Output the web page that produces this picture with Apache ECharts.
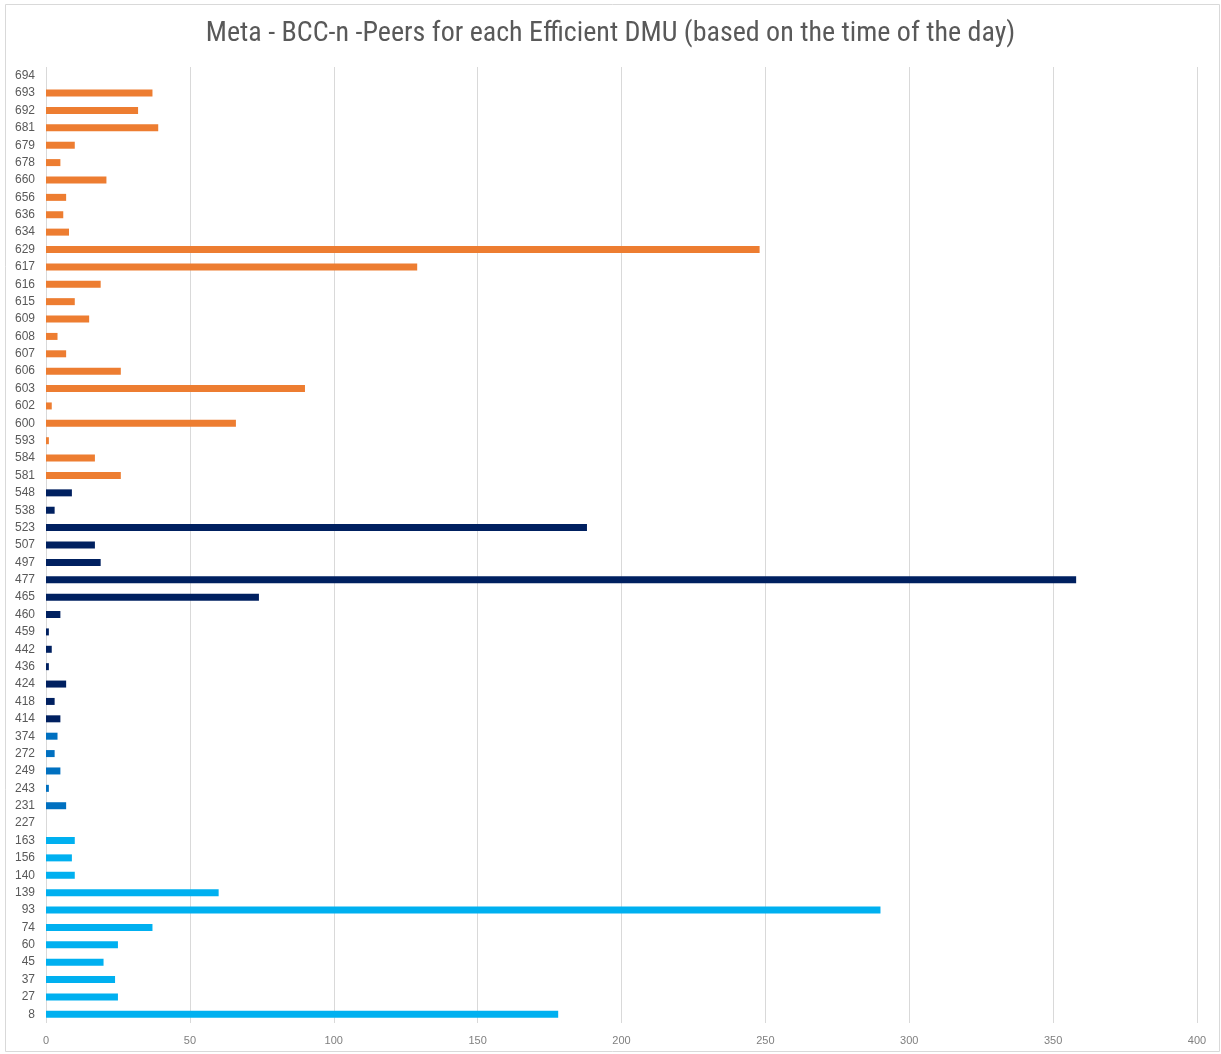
<!DOCTYPE html>
<html>
<head>
<meta charset="utf-8">
<title>Meta - BCC-n -Peers for each Efficient DMU</title>
<script src="https://cdn.jsdelivr.net/npm/echarts@6/dist/echarts.min.js"></script>
<style>
  html, body { margin: 0; padding: 0; background: #ffffff; }
  #chart { width: 1221px; height: 1054px; }
</style>
</head>
<body>
<div id="chart"></div>
<script>
// DMU ids, listed bottom to top along the category axis
const dmus = [
  '8','27','37','45','60','74','93','139','140','156','163','227',
  '231','243','249','272','374',
  '414','418','424','436','442','459','460','465','477','497','507','523','538','548',
  '581','584','593','600','602','603','606','607','608','609','615','616','617','629',
  '634','636','656','660','678','679','681','692','693','694'
];

// number of times each efficient DMU appears as a peer
const peerCounts = [
  178, 25, 24, 20, 25, 37, 290, 60, 10, 9, 10, 0,
  7, 1, 5, 3, 4,
  5, 3, 7, 1, 2, 1, 5, 74, 358, 19, 17, 188, 3, 9,
  26, 17, 1, 66, 2, 90, 26, 7, 4, 15, 10, 19, 129, 248,
  8, 6, 7, 21, 5, 10, 39, 32, 37, 0
];

// consecutive DMU blocks (time-of-day groups) and their bar colours
const groupSizes = [12, 5, 14, 24];
const groupColors = ['#00B0F0', '#0070C0', '#002060', '#ED7D31'];

const xTicks = [0, 50, 100, 150, 200, 250, 300, 350, 400];

// colour for every bar from the group it falls in
const barColor = [];
groupSizes.forEach((n, g) => { for (let i = 0; i < n; i++) barColor.push(groupColors[g]); });

const chart = echarts.init(document.getElementById('chart'), null, { renderer: 'canvas' });

chart.setOption({
  backgroundColor: '#ffffff',
  animation: false,
  title: {
    text: 'Meta - BCC-n -Peers for each Efficient DMU (based on the time of the day)',
    left: 'center',
    top: 15,
    textStyle: {
      fontFamily: '"Liberation Sans Narrow", "Roboto Condensed", "Open Sans", sans-serif',
      fontSize: 28,
      fontWeight: 'normal',
      color: '#595959'
    }
  },
  graphic: [{
    type: 'rect',
    shape: { x: 5.5, y: 4.5, width: 1214, height: 1047 },
    style: { fill: 'none', stroke: '#d9d9d9', lineWidth: 1 },
    silent: true,
    z: -1
  }],
  grid: {
    left: 46,
    right: 24,
    top: 67,
    bottom: 31,
    containLabel: false
  },
  xAxis: {
    type: 'value',
    min: xTicks[0],
    max: xTicks[xTicks.length - 1],
    interval: 50,
    axisLine: { show: false },
    axisTick: { show: false },
    axisLabel: {
      color: '#7f7f7f',
      fontSize: 11,
      fontFamily: '"Liberation Sans", Arial, sans-serif',
      margin: 12
    },
    splitLine: { show: true, lineStyle: { color: '#d9d9d9', width: 1 } }
  },
  yAxis: {
    type: 'category',
    data: dmus,
    axisLine: { show: false },
    axisTick: { show: false },
    axisLabel: {
      interval: 0,
      color: '#595959',
      fontSize: 12,
      fontFamily: '"Liberation Sans", Arial, sans-serif',
      margin: 11
    },
    splitLine: { show: false }
  },
  series: [{
    type: 'bar',
    barWidth: 7,
    data: peerCounts.map((v, i) => ({ value: v, itemStyle: { color: barColor[i] } })),
    label: { show: false }
  }]
});
</script>
</body>
</html>
